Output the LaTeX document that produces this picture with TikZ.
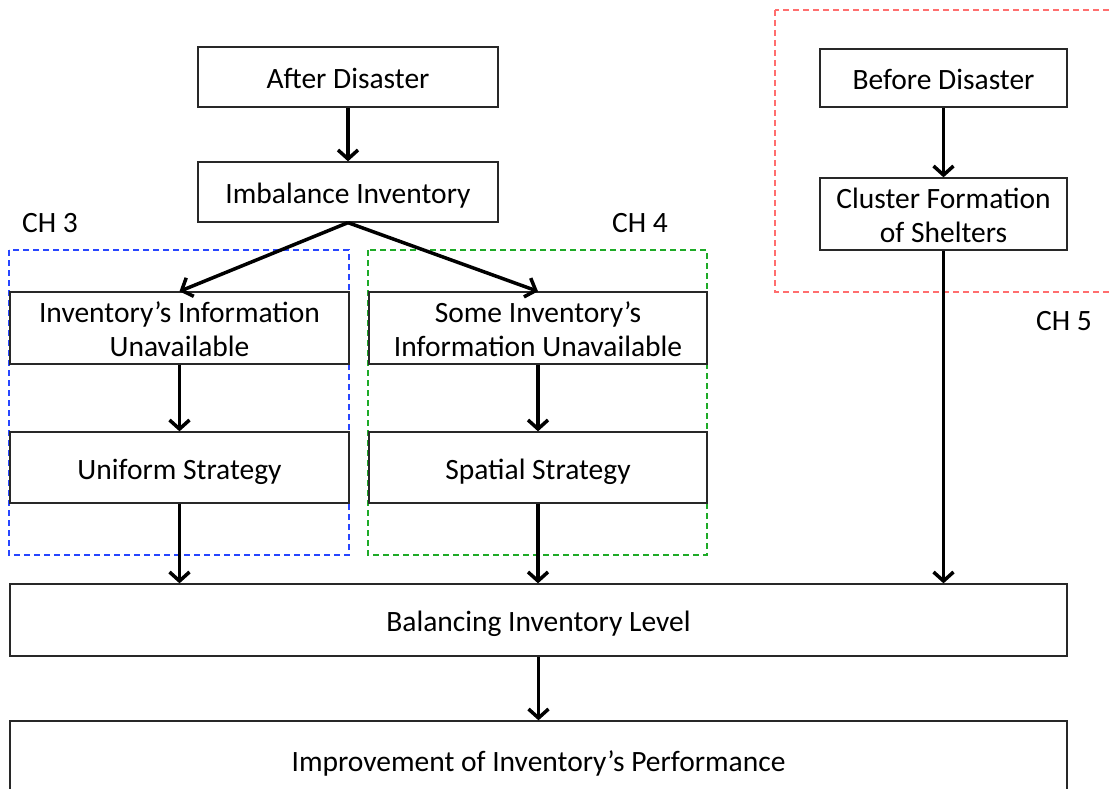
\documentclass[tikz,border=0pt]{standalone}
\usepackage{fontspec}
\setmainfont{Carlito}
\usetikzlibrary{arrows.meta}
\definecolor{boxline}{RGB}{40,40,40}
\definecolor{chblue}{RGB}{40,70,255}
\definecolor{chgreen}{RGB}{30,170,40}
\definecolor{chred}{RGB}{255,110,110}
% stage text: centred lines, set slightly low in the box
\newcommand{\stagetext}[1]{\raisebox{-5pt}[\height][\depth]{\begin{tabular}{@{}c@{}}#1\end{tabular}}}
\begin{document}
\begin{tikzpicture}[x=1pt,y=-1pt,
  stagebox/.style={draw=boxline, line width=1.3pt, fill=white,
    inner sep=0pt, font=\fontsize{29.5}{34}\selectfont},
  flow/.style={line width=3.5pt, -{Straight Barb[length=9pt,width=20pt,line width=3.5pt]}},
  chapter/.style={dashed, dash pattern=on 6pt off 4pt, line width=1.2pt},
  chlabel/.style={font=\fontsize{29.5}{34}\selectfont}]
\useasboundingbox (0,0) rectangle (1109,789);
\clip (0,0) rectangle (1109,789);

% chapter groupings
\draw[chapter, chblue]  (9,250) rectangle (349,555);
\draw[chapter, chgreen] (368,250) rectangle (707,555);
\draw[chapter, chred]   (775,10) rectangle (1120,292);
\node[chlabel] (ch3) at (50,223) {CH 3};
\node[chlabel] (ch4) at (640,223) {CH 4};
\node[chlabel] (ch5) at (1064,321) {CH 5};

% stages
\node[stagebox, minimum width=300pt, minimum height=60pt] (after) at (348,77) {\stagetext{After Disaster}};
\node[stagebox, minimum width=300pt, minimum height=60pt] (imbal) at (348,192) {\stagetext{Imbalance Inventory}};
\node[stagebox, minimum width=339pt, minimum height=72pt] (info) at (179.5,328) {\stagetext{Inventory’s Information\\Unavailable}};
\node[stagebox, minimum width=338pt, minimum height=72pt] (some) at (538,328) {\stagetext{Some Inventory’s\\Information Unavailable}};
\node[stagebox, minimum width=339pt, minimum height=71pt] (uniform) at (179.5,467.5) {\stagetext{Uniform Strategy}};
\node[stagebox, minimum width=338pt, minimum height=71pt] (spatial) at (538,467.5) {\stagetext{Spatial Strategy}};
\node[stagebox, minimum width=247pt, minimum height=58pt] (before) at (943.5,78) {\stagetext{Before Disaster}};
\node[stagebox, minimum width=247pt, minimum height=72pt] (cluster) at (943.5,214) {\stagetext{Cluster Formation\\of Shelters}};
\node[stagebox, minimum width=1057pt, minimum height=72pt] (balance) at (538.5,620) {\stagetext{Balancing Inventory Level}};
\node[stagebox, minimum width=1057pt, minimum height=78pt] (improve) at (538.5,760) {\stagetext{Improvement of Inventory’s Performance}};

% flow
\draw[flow] (after) -- (imbal);
\draw[flow] (imbal.south) -- (info.north);
\draw[flow] (imbal.south) -- (some.north);
\draw[flow] (info) -- (uniform);
\draw[flow] (some) -- (spatial);
\draw[flow] (uniform.south) -- (uniform.south |- balance.north);
\draw[flow] (spatial.south) -- (spatial.south |- balance.north);
\draw[flow] (before) -- (cluster);
\draw[flow] (cluster.south) -- (cluster.south |- balance.north);
\draw[flow] (balance) -- (improve);
\end{tikzpicture}
\end{document}
